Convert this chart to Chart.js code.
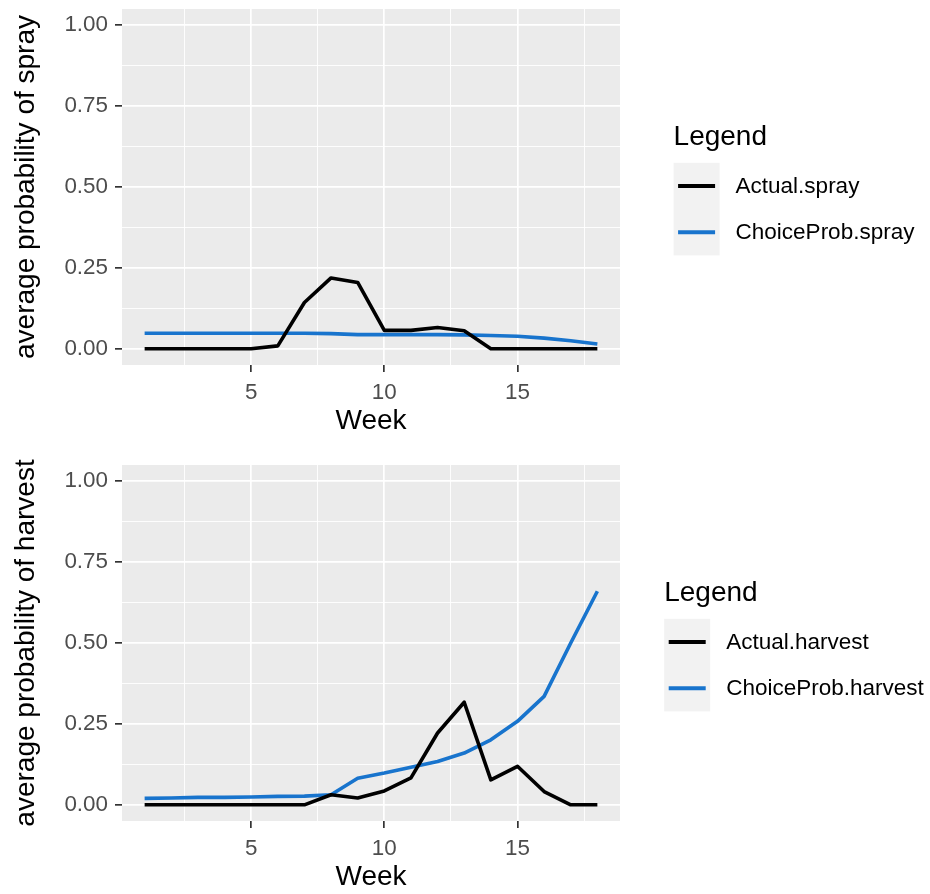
<!DOCTYPE html>
<html>
<head>
<meta charset="utf-8">
<script src="https://cdn.jsdelivr.net/npm/chart.js@4.4.1/dist/chart.umd.min.js"></script>
<style>
  html, body { margin: 0; padding: 0; background: #fff; overflow: hidden; width: 930px; height: 894px; }
  .panel { position: absolute; left: 0; width: 930px; height: 447px; }
</style>
</head>
<body>
<div class="panel" style="top:1px"><canvas id="spray" width="930" height="447"></canvas></div>
<div class="panel" style="top:457px"><canvas id="harvest" width="930" height="447"></canvas></div>
<script>
// data
const weeks = [1, 2, 3, 4, 5, 6, 7, 8, 9, 10, 11, 12, 13, 14, 15, 16, 17, 18];

const actualSpray = [0, 0, 0, 0, 0, 0.009, 0.143, 0.219, 0.205, 0.057, 0.057, 0.066, 0.056, 0, 0, 0, 0, 0];
const choiceSpray = [0.048, 0.048, 0.048, 0.048, 0.048, 0.048, 0.048, 0.047, 0.044, 0.044, 0.044, 0.044, 0.043, 0.041, 0.039, 0.033, 0.025, 0.015];

const actualHarvest = [0, 0, 0, 0, 0, 0, 0, 0.031, 0.021, 0.043, 0.083, 0.222, 0.317, 0.077, 0.119, 0.041, 0, 0];
const choiceHarvest = [0.020, 0.021, 0.023, 0.023, 0.024, 0.026, 0.027, 0.031, 0.082, 0.098, 0.116, 0.134, 0.160, 0.201, 0.258, 0.335, 0.500, 0.660];

const yGrid = [0, 0.125, 0.25, 0.375, 0.5, 0.625, 0.75, 0.875, 1];
const xGrid = [2.5, 5, 7.5, 10, 12.5, 15, 17.5];
const xLabels = [5, 10, 15];

const FONT = '"Liberation Sans", Arial, sans-serif';
Chart.defaults.font.family = FONT;

const isMajorY = v => Math.abs(v * 4 - Math.round(v * 4)) < 1e-6;
const isMajorX = v => xLabels.includes(v);

// grey panel behind the grid, like ggplot
const panelBg = {
  id: 'panelBg',
  beforeDraw(chart) {
    const a = chart.chartArea;
    chart.ctx.save();
    chart.ctx.fillStyle = '#ebebeb';
    chart.ctx.fillRect(a.left, a.top, a.right - a.left, a.bottom - a.top);
    chart.ctx.restore();
  }
};

// ggplot style legend on the right
const ggLegend = {
  id: 'ggLegend',
  afterDraw(chart, args, opts) {
    const ctx = chart.ctx;
    const sets = chart.data.datasets;
    const keyW = 46, keyH = 46.3, gap = 16;
    ctx.save();
    ctx.font = '22.5px ' + FONT;
    const textW = Math.max(...sets.map(d => ctx.measureText(d.label).width));
    const left = opts.centerX - (keyW + gap + textW) / 2;

    ctx.fillStyle = '#000';
    ctx.font = '28px ' + FONT;
    ctx.textBaseline = 'alphabetic';
    ctx.fillText(opts.title, left, opts.titleBaseline);

    ctx.fillStyle = '#f2f2f2';
    ctx.fillRect(left, opts.keyTop, keyW, keyH * sets.length);

    sets.forEach((d, i) => {
      const cy = opts.keyTop + keyH * (i + 0.5);
      ctx.strokeStyle = d.borderColor;
      ctx.lineWidth = 4;
      ctx.lineCap = 'butt';
      ctx.beginPath();
      ctx.moveTo(left + 4.5, cy);
      ctx.lineTo(left + keyW - 4.5, cy);
      ctx.stroke();
      ctx.fillStyle = '#000';
      ctx.font = '22.5px ' + FONT;
      ctx.textBaseline = 'middle';
      ctx.fillText(d.label, left + keyW + gap, cy + 1);
    });
    ctx.restore();
  }
};

function makePanel(id, yTitle, actual, choice, names) {
  const pts = arr => weeks.map((w, i) => ({ x: w, y: arr[i] }));
  new Chart(document.getElementById(id), {
    type: 'line',
    data: {
      datasets: [
        { label: names[0], data: pts(actual), borderColor: '#000000', borderWidth: 3.6,
          pointRadius: 0, tension: 0, borderJoinStyle: 'round', borderCapStyle: 'butt' },
        { label: names[1], data: pts(choice), borderColor: '#1874cd', borderWidth: 3.6,
          pointRadius: 0, tension: 0, borderJoinStyle: 'round', borderCapStyle: 'butt' }
      ]
    },
    options: {
      responsive: false,
      animation: false,
      layout: { padding: { left: 0, right: 310, top: 8, bottom: 0 } },
      plugins: {
        legend: { display: false },
        tooltip: { enabled: false },
        ggLegend: { centerX: 794, title: 'Legend', titleBaseline: 144, keyTop: 161.8 }
      },
      scales: {
        x: {
          type: 'linear',
          min: 0.15,
          max: 18.85,
          afterBuildTicks: s => { s.ticks = xGrid.map(v => ({ value: v })); },
          afterFit: s => { s.height = 83; },
          border: { display: false },
          grid: {
            color: '#ffffff',
            lineWidth: c => isMajorX(c.tick.value) ? 1.7 : 0.9,
            tickColor: c => isMajorX(c.tick.value) ? '#333333' : 'rgba(0,0,0,0)',
            tickWidth: 1.7,
            tickLength: 7
          },
          ticks: {
            autoSkip: false,
            maxRotation: 0,
            padding: 7,
            color: '#4d4d4d',
            font: { size: 22.4 },
            callback: v => isMajorX(v) ? String(v) : ''
          },
          title: { display: true, text: 'Week', color: '#000', font: { size: 28 }, padding: { top: 0, bottom: 10 } }
        },
        y: {
          type: 'linear',
          min: -0.05,
          max: 1.05,
          afterBuildTicks: s => { s.ticks = yGrid.map(v => ({ value: v })); },
          afterFit: s => { s.width = 122; },
          border: { display: false },
          grid: {
            color: '#ffffff',
            lineWidth: c => isMajorY(c.tick.value) ? 1.7 : 0.9,
            tickColor: c => isMajorY(c.tick.value) ? '#333333' : 'rgba(0,0,0,0)',
            tickWidth: 1.7,
            tickLength: 7
          },
          ticks: {
            autoSkip: false,
            padding: 7,
            color: '#4d4d4d',
            font: { size: 22.4, lineHeight: 0.01 },
            callback: v => isMajorY(v) ? v.toFixed(2) : ''
          },
          title: { display: true, text: yTitle, color: '#000', font: { size: 28 }, padding: { top: 9, bottom: 0 } }
        }
      }
    },
    plugins: [panelBg, ggLegend]
  });
}

makePanel('spray', 'average probability of spray', actualSpray, choiceSpray, ['Actual.spray', 'ChoiceProb.spray']);
makePanel('harvest', 'average probability of harvest', actualHarvest, choiceHarvest, ['Actual.harvest', 'ChoiceProb.harvest']);
</script>
</body>
</html>
